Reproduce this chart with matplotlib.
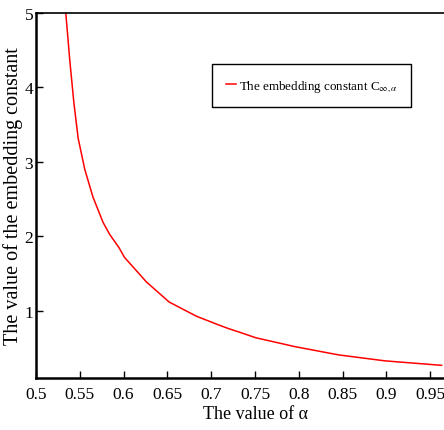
import matplotlib
matplotlib.use("Agg")
import matplotlib.pyplot as plt

# values
alpha = [0.534, 0.5386, 0.5432, 0.5481, 0.5557, 0.565, 0.5765, 0.584, 0.5947, 0.601,
         0.626, 0.652, 0.683, 0.709, 0.7205, 0.731, 0.751, 0.796, 0.8455, 0.8985, 0.963]
const = [5.00, 4.36, 3.80, 3.32, 2.90, 2.53, 2.19, 2.03, 1.85, 1.72,
         1.39, 1.12, 0.93, 0.81, 0.76, 0.72, 0.64, 0.52, 0.41, 0.33, 0.27]
xticks = [0.5, 0.55, 0.6, 0.65, 0.7, 0.75, 0.8, 0.85, 0.9, 0.95]
xtick_labels = ["0.5", "0.55", "0.6", "0.65", "0.7", "0.75", "0.8", "0.85", "0.9", "0.95"]
yticks = [1, 2, 3, 4, 5]

plt.rcParams["font.family"] = ["Liberation Serif", "DejaVu Serif"]
plt.rcParams["mathtext.fontset"] = "stix"

fig = plt.figure(figsize=(4.44, 4.31), dpi=100)
ax = fig.add_axes([36 / 444, 1 - 379 / 431, 438 / 444, 365 / 431])

ax.plot(alpha, const, color="red", linewidth=1.1,
        label=r"The embedding constant C$_{\infty,\alpha}$")

ax.set_xlim(0.5, 1.0)
ax.set_ylim(0.1, 5)
ax.set_xticks(xticks)
ax.set_xticklabels(xtick_labels)
ax.set_yticks(yticks)
ax.tick_params(direction="in", length=5, width=1, labelsize=12.5)
ax.tick_params(axis="x", pad=6)
ax.tick_params(axis="y", pad=2)

for s in ["left", "bottom"]:
    ax.spines[s].set_linewidth(1.8)
ax.spines["top"].set_linewidth(1.2)
ax.spines["right"].set_visible(False)

ax.set_xlabel("The value of α", fontsize=13, labelpad=2)
ax.set_ylabel("The value of the embedding constant", fontsize=14.5)
ax.yaxis.set_label_coords(-0.029, 0.5)

leg = ax.legend(loc="upper left", bbox_to_anchor=((212 - 36) / 438, 1 - (65 - 14) / 365),
                fontsize=9.4, handlelength=0.8, handletextpad=0.2,
                fancybox=False, framealpha=1, borderpad=1.05, borderaxespad=0)
leg.get_frame().set_edgecolor("black")
leg.get_frame().set_linewidth(1.0)

fig.savefig("out.png", dpi=100)
